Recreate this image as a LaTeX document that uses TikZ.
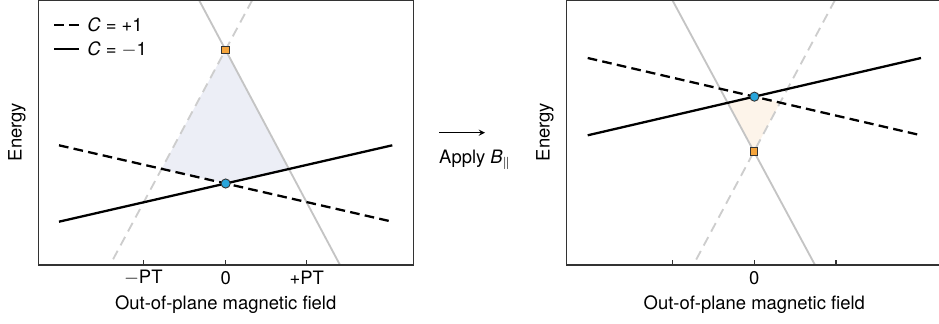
\documentclass[tikz,border=0pt]{standalone}
\usepackage{fontspec}
\setmainfont{TeX Gyre Heros}
\usetikzlibrary{positioning}

\definecolor{frameclr}{HTML}{333333}
\definecolor{grayline}{HTML}{C4C4C4}
\definecolor{graydash}{HTML}{CDCDCD}
\definecolor{ptblue}{HTML}{2AA6DC}
\definecolor{ptorange}{HTML}{F4A43C}
\definecolor{shadeblue}{HTML}{ECEEF6}
\definecolor{shadeorange}{HTML}{FDF4EA}

\begin{document}
\begin{tikzpicture}[x=0.02cm, y=-0.02cm,
                    font=\fontsize{10.5}{12}\selectfont,
                    frame/.style={draw=frameclr, line width=0.75pt},
                    band/.style={line width=1.3pt},
                    banddash/.style={band, dash pattern=on 5.5pt off 3pt},
                    ghost/.style={draw=grayline, line width=1.05pt},
                    ghostdash/.style={draw=graydash, line width=1.05pt, dash pattern=on 5.5pt off 3.5pt},
                    tick/.style={frameclr, line width=0.6pt},
                    dirac/.style={circle, draw=frameclr, fill=ptblue, line width=0.5pt, inner sep=0pt, minimum size=5.2pt},
                    gap/.style={rectangle, draw=frameclr, fill=ptorange, line width=0.5pt, inner sep=0pt, minimum size=4.3pt}]

  \useasboundingbox (0,0) rectangle (939,324);

  % Pannello sinistro
  \coordinate (sa) at (59,221.7);    \coordinate (sb) at (392.3,145.3);
  \coordinate (da) at (59,145.3);    \coordinate (db) at (392.3,221.7);
  \coordinate (ga) at (199,0);       \coordinate (gb) at (340,265);
  \coordinate (ha) at (252.3,0);     \coordinate (hb) at (110,265);

  \coordinate (topL) at (intersection of ga--gb and ha--hb);
  \coordinate (midL) at (intersection of sa--sb and da--db);
  \coordinate (leftL) at (intersection of ha--hb and da--db);
  \coordinate (rightL) at (intersection of ga--gb and sa--sb);

  \fill[shadeblue] (topL) -- (leftL) -- (midL) -- (rightL) -- cycle;
  \draw[ghost] (ga) -- (gb);
  \draw[ghostdash] (ha) -- (hb);
  \draw[band] (sa) -- (sb);
  \draw[banddash] (da) -- (db);

  \draw[frame] (38.3,0.5) rectangle (413.3,265);
  \foreach \x/\lab in {143.3/$-$PT, 225.7/0, 306.7/+PT} {
    \draw[tick] (\x,265) -- (\x,259.5);
    \node (tl\x) at (\x,278) {\lab};
  }
  \node (xlabL) at (225.7,305) {Out-of-plane magnetic field};
  \node[rotate=90] (ylabL) at (17,132) {Energy};

  \node[gap] (sqL) at (topL) {};
  \node[dirac] (ptL) at (midL) {};

  % Legenda
  \coordinate (lgA) at (54,25);   \coordinate (lgB) at (79,25);
  \coordinate (lgC) at (54,49);   \coordinate (lgD) at (79,49);
  \draw[band, dash pattern=on 5.5pt off 3pt] (lgA) -- (lgB);
  \draw[band] (lgC) -- (lgD);
  \node[anchor=west, inner sep=0pt] (lgp) at (87,25) {\textit{C} = +1};
  \node[anchor=west, inner sep=0pt] (lgm) at (87,49) {\textit{C} = $-$1};

  % Freccia
  \coordinate (arA) at (439,132.7);
  \coordinate (arB) at (485,132.7);
  \draw[->, >=stealth, line width=0.6pt] (arA) -- (arB);
  \node (apply) at (475,160) {Apply \textit{B}$_{\parallel}$};

  % Pannello destro
  \coordinate (sc) at (587.7,135.3); \coordinate (sd) at (921,58);
  \coordinate (dc) at (587.7,58);    \coordinate (dd) at (921,135.3);
  \coordinate (gc) at (672.3,0);     \coordinate (gd) at (815,265);
  \coordinate (hc) at (835,0);       \coordinate (hd) at (693.3,265);

  \coordinate (botR) at (intersection of gc--gd and hc--hd);
  \coordinate (midR) at (intersection of sc--sd and dc--dd);
  \coordinate (leftR) at (intersection of gc--gd and sc--sd);
  \coordinate (rightR) at (intersection of hc--hd and dc--dd);

  \fill[shadeorange] (botR) -- (leftR) -- (midR) -- (rightR) -- cycle;
  \draw[ghost] (gc) -- (gd);
  \draw[ghostdash] (hc) -- (hd);
  \draw[band] (sc) -- (sd);
  \draw[banddash] (dc) -- (dd);

  \draw[frame] (939,0.5) -- (566.7,0.5) -- (566.7,265) -- (939,265);
  \foreach \x in {672.3, 754.3, 836} {
    \draw[tick] (\x,265) -- (\x,259.5);
  }
  \node (tr0) at (754.3,278) {0};
  \node (xlabR) at (754.3,305) {Out-of-plane magnetic field};
  \node[rotate=90] (ylabR) at (545,132) {Energy};

  \node[gap] (sqR) at (botR) {};
  \node[dirac] (ptR) at (midR) {};

\end{tikzpicture}
\end{document}
